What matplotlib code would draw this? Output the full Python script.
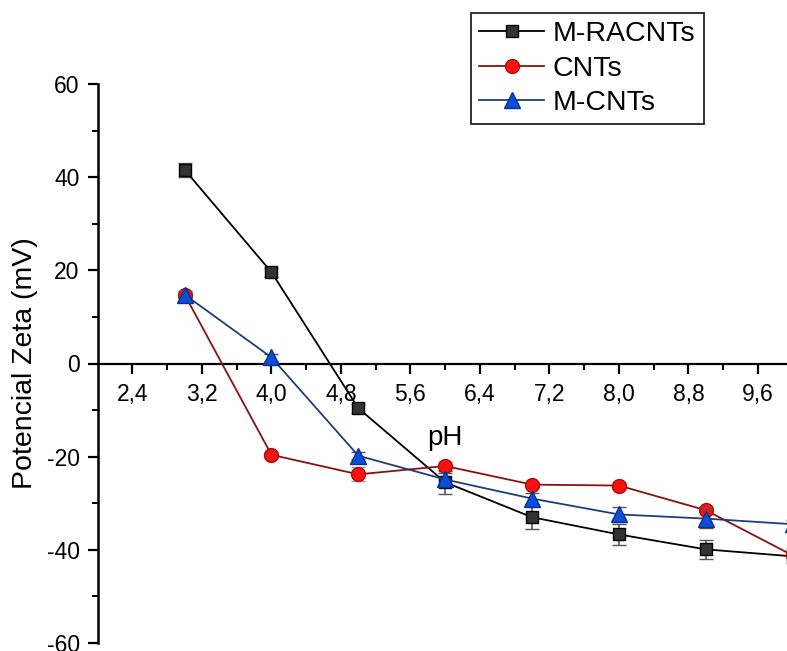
import numpy as np
import matplotlib.pyplot as plt
from matplotlib.ticker import MultipleLocator, FixedLocator, FuncFormatter

plt.rcParams['font.family'] = ['Liberation Sans', 'DejaVu Sans']

# Data
ph = [3, 4, 5, 6, 7, 8, 9, 10]
m_racnts = [41.6, 19.6, -9.6, -25.5, -33.0, -36.7, -39.9, -41.4]
m_racnts_err = [1.5, 1.0, 1.0, 2.5, 2.5, 2.2, 2.0, 1.5]
cnts = [14.8, -19.6, -23.8, -22.0, -26.0, -26.2, -31.5, -41.2]
cnts_err = [0.8, 0.6, 1.5, 0.8, 0.6, 0.8, 0.8, 0.8]
m_cnts = [14.8, 1.3, -19.8, -24.9, -29.0, -32.4, -33.3, -34.5]
m_cnts_err = [0.8, 0.8, 0.8, 1.5, 1.2, 1.5, 2.0, 1.0]

W, H = 787, 651
fig = plt.figure(figsize=(W / 100, H / 100), dpi=100)
ax = fig.add_axes([97.7 / W, 8 / H, 695 / W, 559 / H])

ax.errorbar(ph, m_racnts, yerr=m_racnts_err, color='black', lw=1.3,
            marker='s', ms=9, mfc='#333333', mec='black', mew=1,
            ecolor='#555555', elinewidth=1.2, capsize=5, capthick=1.2,
            label='M-RACNTs', clip_on=False, zorder=3)
ax.errorbar(ph, cnts, yerr=cnts_err, color='#8b1010', lw=1.3,
            marker='o', ms=10, mfc='#ff1010', mec='#a01010', mew=1,
            ecolor='#999999', elinewidth=1.0, capsize=5, capthick=1.0,
            label='CNTs', clip_on=False, zorder=4)
ax.errorbar(ph, m_cnts, yerr=m_cnts_err, color='#1f3d7a', lw=1.3,
            marker='^', ms=11, mfc='#0a4fd8', mec='#0a2f90', mew=1,
            ecolor='#555555', elinewidth=1.0, capsize=5, capthick=1.0,
            label='M-CNTs', clip_on=False, zorder=5)

ax.set_xlim(2, 10)
ax.set_ylim(-60, 60)

for s in ['top', 'right']:
    ax.spines[s].set_visible(False)
ax.spines['bottom'].set_position(('data', 0))
ax.spines['bottom'].set_linewidth(1.6)
ax.spines['left'].set_linewidth(1.8)

ax.xaxis.set_major_locator(FixedLocator(np.arange(2.4, 10.0, 0.8)))
ax.xaxis.set_minor_locator(FixedLocator(np.arange(2.8, 10.0, 0.8)))
ax.xaxis.set_major_formatter(FuncFormatter(lambda v, p: f'{v:.1f}'.replace('.', ',')))
ax.yaxis.set_major_locator(MultipleLocator(20))
ax.yaxis.set_minor_locator(MultipleLocator(10))
ax.yaxis.set_major_formatter(FuncFormatter(lambda v, p: f'{v:.0f}'))

ax.tick_params(axis='both', which='major', direction='out', length=7, width=1.6,
               labelsize=16.5, pad=6)
ax.tick_params(axis='both', which='minor', direction='out', length=4, width=1.4)
ax.tick_params(axis='x', which='major', pad=7)

ax.set_ylabel('Potencial Zeta (mV)', fontsize=20.5)
ax.yaxis.set_label_coords(-0.086, 0.5)

ax.text(6.0, -17.4, 'pH', fontsize=20, ha='center', va='baseline')

handles, labels = ax.get_legend_handles_labels()
handles = [h[0] for h in handles]
leg = fig.legend(handles, labels, loc='upper left',
                 bbox_to_anchor=(471 / W, 1 - 13 / H), fontsize=20.5,
                 frameon=True, fancybox=False, edgecolor='black',
                 handlelength=2.3, handletextpad=0.3, labelspacing=0.3,
                 borderpad=0.28, borderaxespad=0)
leg.get_frame().set_linewidth(1.4)

fig.savefig('out.png', dpi=100)
